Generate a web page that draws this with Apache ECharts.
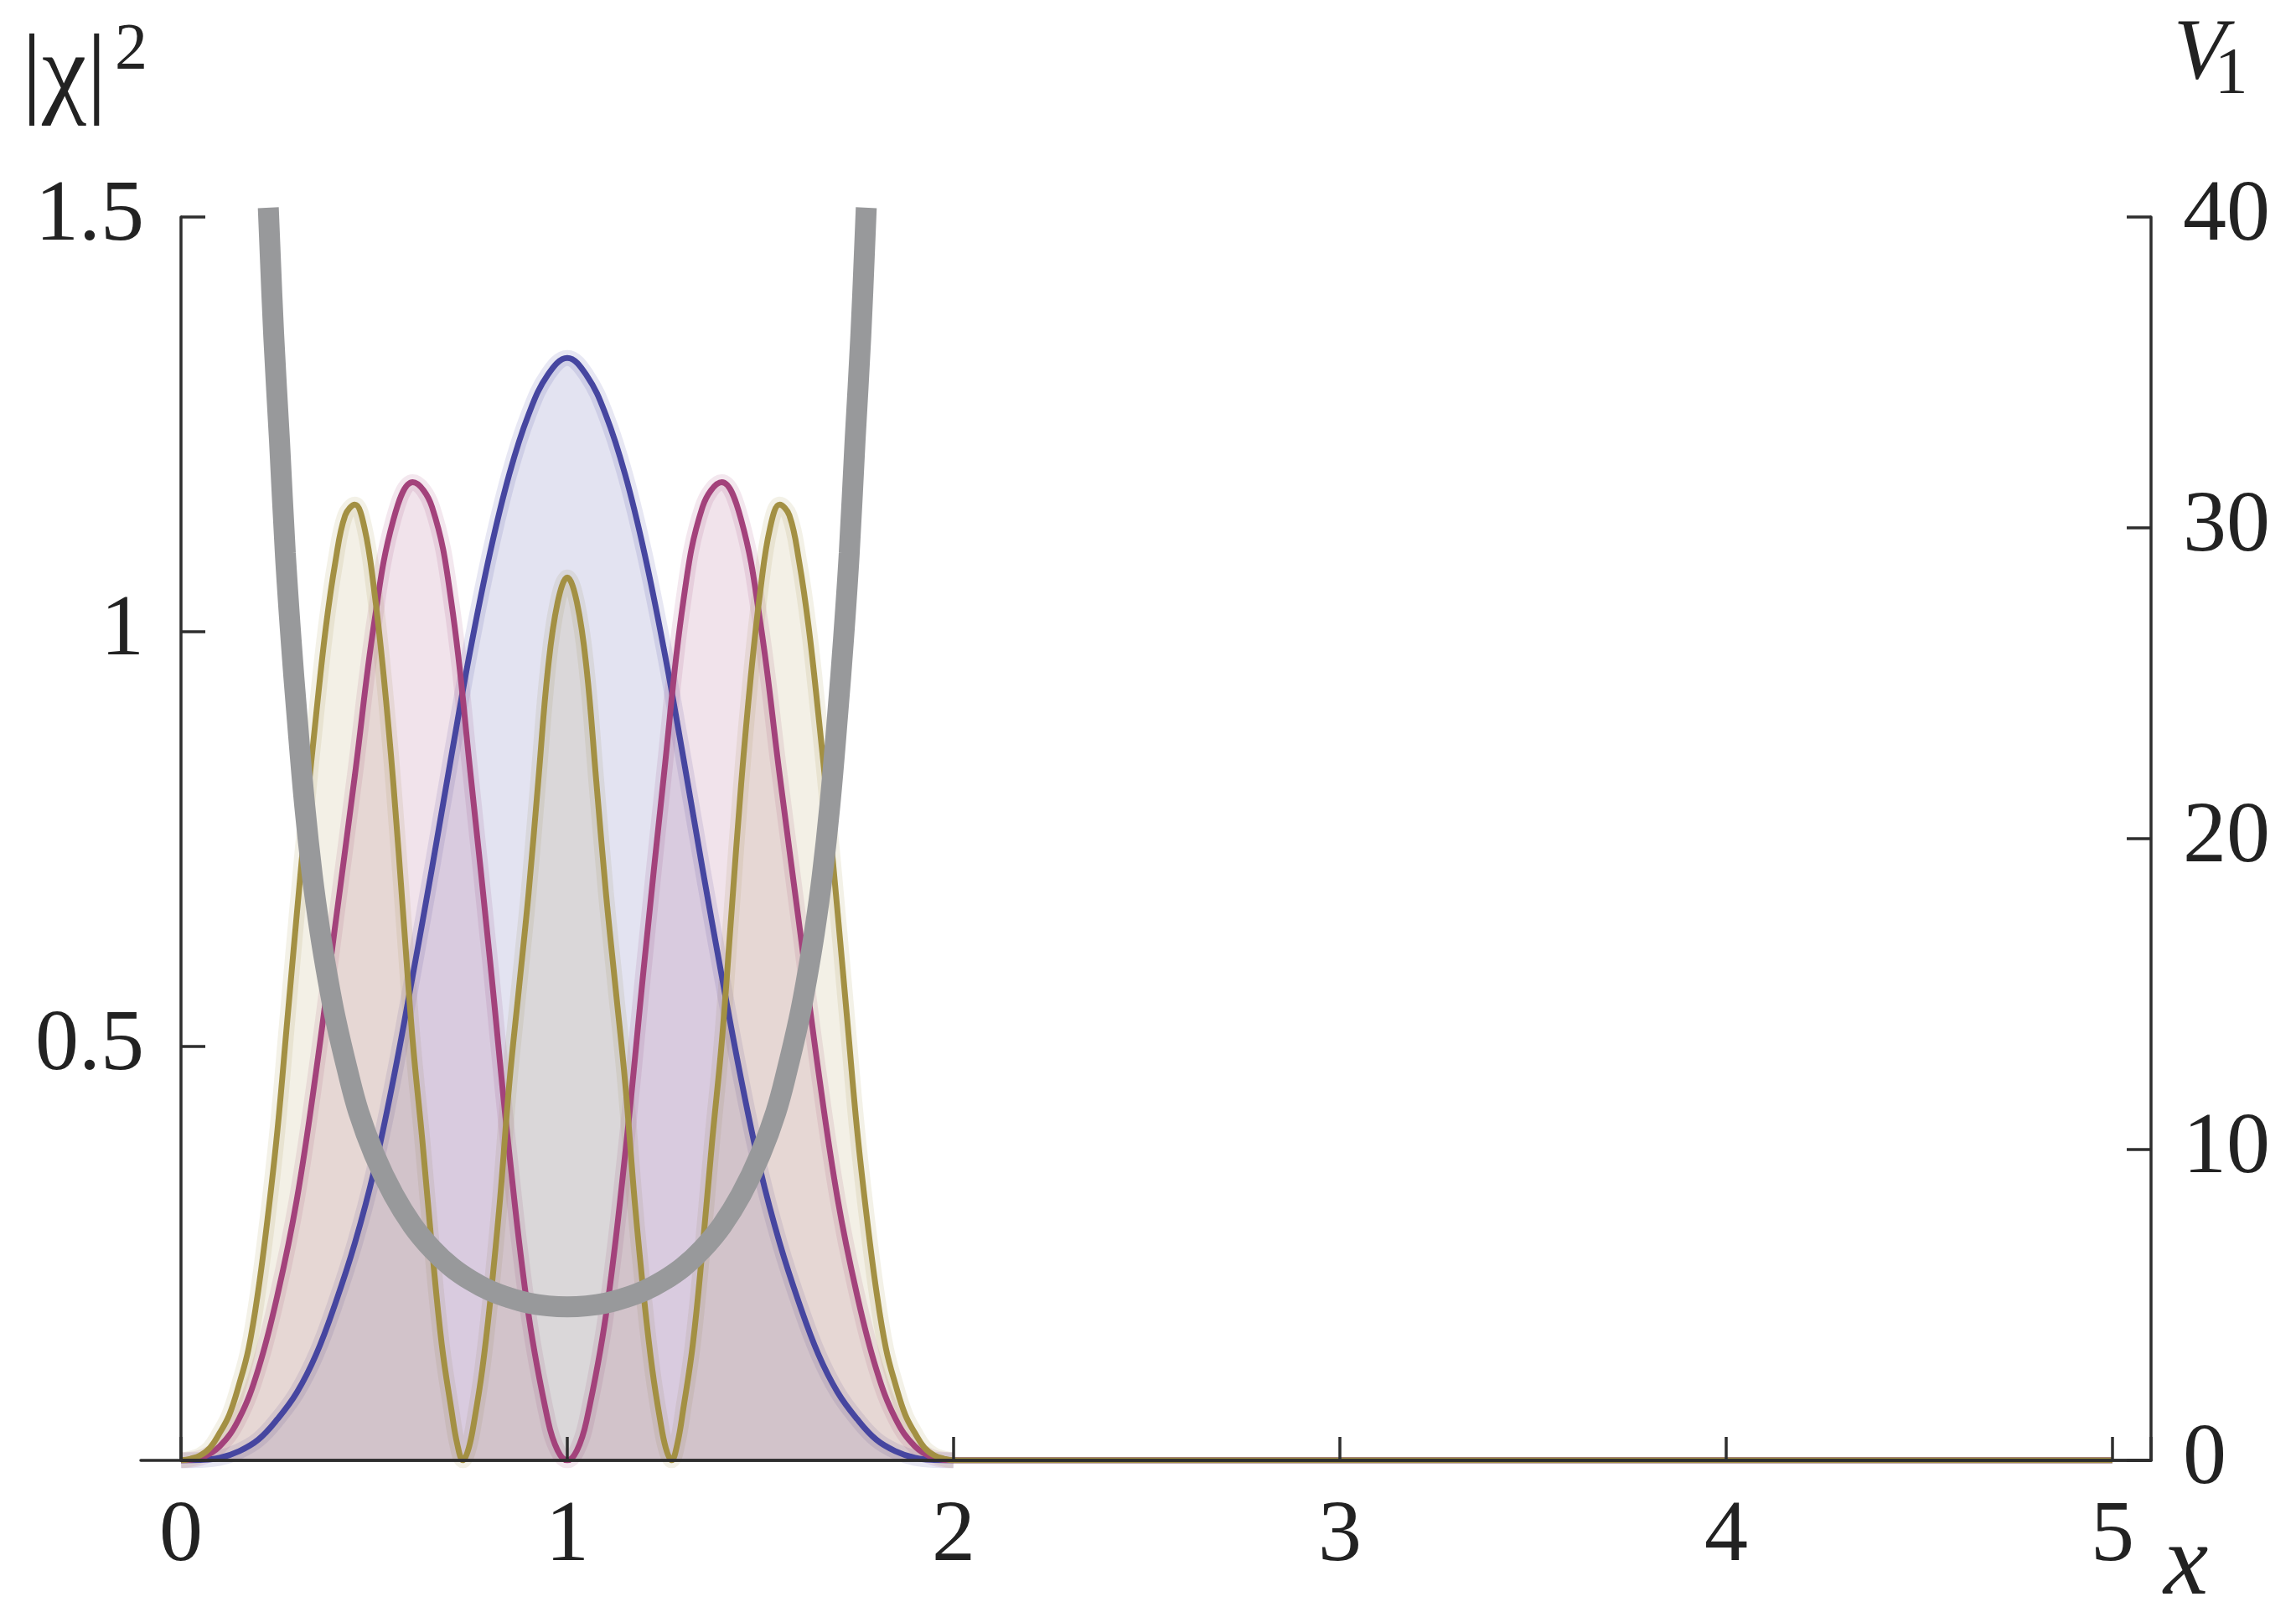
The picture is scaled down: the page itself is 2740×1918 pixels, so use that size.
<!DOCTYPE html>
<html><head><meta charset="utf-8">
<script src="https://cdn.jsdelivr.net/npm/echarts@6/dist/echarts.min.js"></script>
<style>html,body{margin:0;padding:0;background:#fff}#c{width:2740px;height:1918px}</style>
</head><body><div id="c"></div>
<script>
// ---- data ----
const xTickValues = [0, 1, 2, 3, 4, 5];
const leftTicks = [0.5, 1, 1.5];
const rightTicks = [0, 10, 20, 30, 40];

// ground state |chi|^2 (blue)
const blueX = [0,0.05,0.1,0.15,0.2,0.25,0.3,0.35,0.4,0.45,0.5,0.55,0.6,0.65,0.7,0.75,0.8,0.85,0.9,0.95,1.0,
  1.05,1.1,1.15,1.2,1.25,1.3,1.35,1.4,1.45,1.5,1.55,1.6,1.65,1.7,1.75,1.8,1.85,1.9,1.95,2.0,5.0];
const blueY = [0,0.0005,0.003,0.011,0.025,0.050,0.082,0.128,0.190,0.262,0.350,0.460,0.585,0.715,0.850,0.980,1.095,1.190,1.262,1.310,1.330,
  1.309,1.261,1.189,1.094,0.979,0.849,0.714,0.584,0.460,0.350,0.262,0.190,0.128,0.082,0.050,0.025,0.011,0.003,0.0005,0,0];

// first excited |chi|^2 (magenta)
const pinkX = [0,0.05,0.1,0.15,0.2,0.25,0.3,0.35,0.4,0.45,0.5,0.55,0.6,0.65,0.7,0.75,0.8,0.85,0.9,0.95,0.975,1.0,
  1.025,1.05,1.1,1.15,1.2,1.25,1.3,1.35,1.4,1.45,1.5,1.55,1.6,1.65,1.7,1.75,1.8,1.85,1.9,1.95,2.0,5.0];
const pinkY = [0,0.003,0.017,0.050,0.110,0.200,0.315,0.470,0.648,0.826,1.010,1.135,1.180,1.150,1.035,0.826,0.603,0.370,0.175,0.048,0.012,0,
  0.012,0.048,0.175,0.370,0.603,0.826,1.035,1.150,1.180,1.135,1.010,0.826,0.648,0.470,0.315,0.200,0.110,0.050,0.017,0.003,0,0];

// second excited |chi|^2 (olive)
const oliveX = [0,0.025,0.05,0.075,0.1,0.125,0.15,0.175,0.2,0.225,0.25,0.275,0.3,0.325,0.35,0.375,0.4,0.425,0.45,0.475,
  0.5,0.525,0.55,0.575,0.6,0.625,0.65,0.675,0.7,0.715,0.73,0.745,0.76,0.78,0.8,0.825,0.85,0.875,0.9,0.925,0.95,0.975,1.0,
  1.025,1.05,1.075,1.1,1.125,1.15,1.175,1.2,1.22,1.24,1.255,1.27,1.285,1.3,1.325,1.35,1.375,1.4,1.425,1.45,1.475,
  1.5,1.525,1.55,1.575,1.6,1.625,1.65,1.675,1.7,1.725,1.75,1.775,1.8,1.825,1.85,1.875,1.9,1.925,1.95,1.975,2.0,5.0];
const oliveY = [0,0.002,0.006,0.015,0.033,0.055,0.091,0.135,0.205,0.295,0.400,0.530,0.660,0.785,0.900,1.005,1.085,1.140,1.153,1.125,
  1.050,0.945,0.815,0.660,0.505,0.385,0.255,0.140,0.061,0.020,0,0.015,0.050,0.110,0.190,0.310,0.455,0.570,0.685,0.820,0.955,1.035,1.065,
  1.035,0.955,0.820,0.685,0.570,0.455,0.310,0.190,0.110,0.050,0.015,0,0.020,0.061,0.140,0.255,0.385,0.505,0.660,0.815,0.945,
  1.050,1.125,1.153,1.140,1.085,1.005,0.900,0.785,0.660,0.530,0.400,0.295,0.205,0.135,0.091,0.055,0.033,0.015,0.006,0.002,0,0];

// potential V1 (grey, right axis)
const potX = [0.226,0.24,0.255,0.27,0.285,0.30,0.32,0.34,0.36,0.38,0.40,0.43,0.46,0.50,0.55,0.60,0.65,0.70,0.75,0.80,0.85,0.90,0.95,1.00,
  1.05,1.10,1.15,1.20,1.25,1.30,1.35,1.40,1.45,1.50,1.54,1.57,1.60,1.62,1.64,1.66,1.68,1.70,1.715,1.73,1.745,1.76,1.774];
const potY = [40.3,36.2,32.8,29.2,26.4,24.0,21.1,18.8,17.0,15.5,14.2,12.6,11.2,9.85,8.55,7.55,6.80,6.22,5.79,5.46,5.23,5.06,4.97,4.94,
  4.97,5.06,5.23,5.46,5.79,6.22,6.80,7.55,8.55,9.85,11.2,12.6,14.2,15.5,17.0,18.8,21.1,24.0,26.4,29.2,32.8,36.2,40.3];

// ---- chart ----
const pairs = (xs, ys) => xs.map((x, i) => [x, ys[i]]);
const FONT = '"Liberation Serif", "Times New Roman", Times, serif';
const AX = '#2e2e2e';
const TXT = '#222222';

function wave(name, xs, ys, line, rgb, fillA) {
  const d = pairs(xs, ys);
  const inner = d.filter(p => p[0] <= 2.0);
  return [
    { name: name + '-halo', type: 'line', data: inner, smooth: 0.4, showSymbol: false, silent: true,
      xAxisIndex: 0, yAxisIndex: 0, z: 2,
      lineStyle: { width: 19, color: 'rgba(' + rgb + ',0.13)' } },
    { name: name, type: 'line', data: d, smooth: 0.4, showSymbol: false, silent: true,
      xAxisIndex: 0, yAxisIndex: 0, z: 3,
      lineStyle: { width: 7, color: line },
      areaStyle: { color: 'rgba(' + rgb + ',' + fillA + ')', origin: 'start' } }
  ];
}

const chart = echarts.init(document.getElementById('c'), null, { renderer: 'canvas' });
const option = {
  animation: false,
  backgroundColor: '#ffffff',
  grid: [
    { left: 216, right: 173, top: 259, bottom: 175 },
    { left: 168, right: 173, top: 259, bottom: 175 }
  ],
  xAxis: [
    { type: 'value', gridIndex: 0, min: 0, max: 5.1, interval: 1, z: 10,
      axisLine: { show: true, onZero: false, lineStyle: { color: AX, width: 3.5 } },
      axisTick: { show: true, inside: true, length: 28, lineStyle: { color: AX, width: 3.5 } },
      axisLabel: { show: true, margin: 40, fontSize: 104, fontFamily: FONT, color: TXT,
        formatter: v => (xTickValues.indexOf(Math.round(v * 1000) / 1000) >= 0 ? String(Math.round(v)) : '') },
      splitLine: { show: false } },
    { type: 'value', gridIndex: 1, min: 0, max: 1, z: 9,
      axisLine: { show: true, onZero: false, lineStyle: { color: AX, width: 3.5 } },
      axisTick: { show: false }, axisLabel: { show: false }, splitLine: { show: false } }
  ],
  yAxis: [
    { type: 'value', gridIndex: 0, position: 'left', min: 0, max: 1.5, interval: 0.5, z: 10,
      axisLine: { show: true, onZero: false, lineStyle: { color: AX, width: 3.5 } },
      axisTick: { show: true, inside: true, length: 29, lineStyle: { color: AX, width: 3.5 } },
      axisLabel: { show: true, margin: 44, fontSize: 104, fontFamily: FONT, color: TXT,
        formatter: v => (leftTicks.indexOf(v) >= 0 ? String(v) : '') },
      splitLine: { show: false } },
    { type: 'value', gridIndex: 0, position: 'right', min: 0, max: 40, interval: 10, z: 10,
      axisLine: { show: true, onZero: false, lineStyle: { color: AX, width: 3.5 } },
      axisTick: { show: true, inside: true, length: 29, lineStyle: { color: AX, width: 3.5 } },
      axisLabel: { show: true, margin: 38, fontSize: 104, fontFamily: FONT, color: TXT,
        formatter: v => (rightTicks.indexOf(v) >= 0 ? String(v) : '') },
      splitLine: { show: false } },
    { type: 'value', gridIndex: 1, show: false, min: 0, max: 1 }
  ],
  graphic: [
    { type: 'text', x: 26, y: 92, style: { text: '|χ|', font: '120px ' + FONT, fill: TXT, verticalAlign: 'middle', align: 'left' } },
    { type: 'text', x: 137, y: 61, style: { text: '2', font: '78px ' + FONT, fill: TXT, verticalAlign: 'middle', align: 'left' } },
    { type: 'text', x: 2594, y: 66, style: { text: 'V', font: 'italic 103px ' + FONT, fill: TXT, verticalAlign: 'middle', align: 'left' } },
    { type: 'text', x: 2643, y: 89, style: { text: '1', font: '79px ' + FONT, fill: TXT, verticalAlign: 'middle', align: 'left' } },
    { type: 'text', x: 2582, y: 1870, style: { text: 'x', font: 'italic 120px ' + FONT, fill: TXT, verticalAlign: 'middle', align: 'left' } }
  ],
  series: [
    ...wave('n0', blueX, blueY, '#4646a0', '70,70,160', 0.21),
    ...wave('n1', pinkX, pinkY, '#a3427b', '163,66,123', 0.21),
    ...wave('n2', oliveX, oliveY, '#a39043', '163,144,67', 0.19),
    { name: 'V1', type: 'line', data: pairs(potX, potY), smooth: 0.4, showSymbol: false, silent: true,
      xAxisIndex: 0, yAxisIndex: 1, z: 4, clip: false,
      lineStyle: { width: 25, color: '#98999b', cap: 'butt' } }
  ]
};
chart.setOption(option);
</script>
</body></html>
